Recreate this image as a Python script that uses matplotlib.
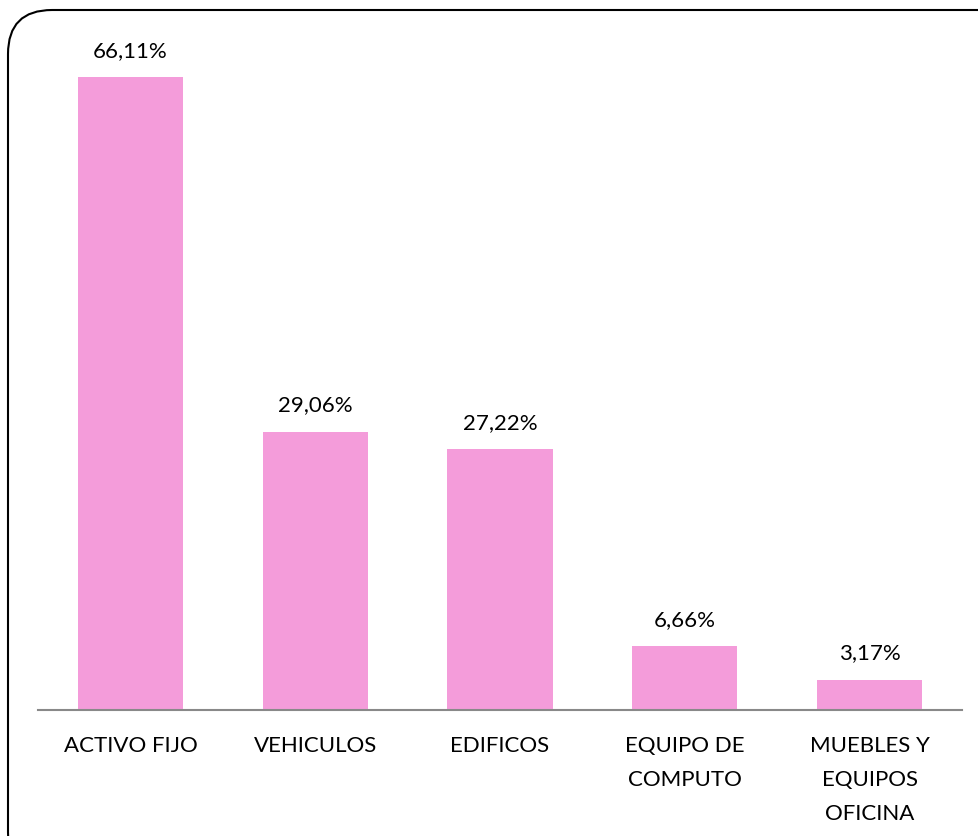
import matplotlib.pyplot as plt
from matplotlib.patches import FancyBboxPatch

categories = ['ACTIVO FIJO', 'VEHICULOS', 'EDIFICOS', 'EQUIPO DE\nCOMPUTO', 'MUEBLES Y\nEQUIPOS\nOFICINA']
values = [66.11, 29.06, 27.22, 6.66, 3.17]
labels = ['66,11%', '29,06%', '27,22%', '6,66%', '3,17%']

plt.rcParams['font.family'] = ['Lato', 'DejaVu Sans']

fig = plt.figure(figsize=(9.79, 8.36), dpi=100)
ax = fig.add_axes([38 / 979, 126 / 836, 924 / 979, 670 / 836])

x = range(len(categories))
ax.bar(x, values, width=0.57, color='#F49CDA')
for i, v in enumerate(values):
    ax.text(i, v + 1.7, labels[i], ha='center', va='bottom', fontsize=16)

ax.set_xlim(-0.5, len(categories) - 0.5)
ax.set_ylim(0, 70)
ax.set_xticks(list(x))
ax.set_xticklabels(categories, fontsize=16, linespacing=1.85, va='top')
ax.tick_params(axis='x', length=0, pad=19)
ax.set_yticks([])
for s in ['top', 'right', 'left']:
    ax.spines[s].set_visible(False)
ax.spines['bottom'].set_color('#898989')
ax.spines['bottom'].set_linewidth(1.5)

border = FancyBboxPatch((8 / 979, -40 / 836), 1.1, 866 / 836, boxstyle='round,pad=0,rounding_size=0.045',
                        transform=fig.transFigure, fill=False, edgecolor='black', linewidth=1.5,
                        clip_on=False, mutation_aspect=979 / 836)
fig.patches.append(border)

fig.savefig('out.png', dpi=100)
